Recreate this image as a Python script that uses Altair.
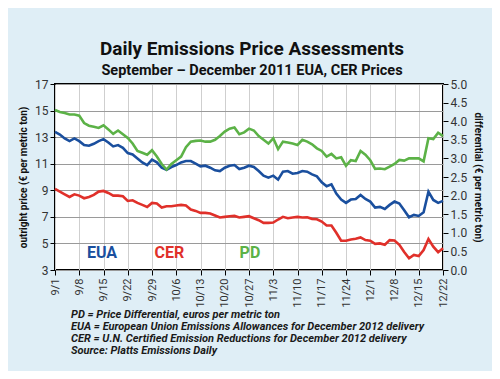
import altair as alt
import pandas as pd

# Trading-day index 0..80 (9/1/2011 .. 12/22/2011)
tick_labels = ["9/1", "9/8", "9/15", "9/22", "9/29", "10/6", "10/13", "10/20", "10/27",
               "11/3", "11/10", "11/17", "11/24", "12/1", "12/8", "12/15", "12/22"]

eua = [13.4, 13.2, 12.9, 12.7, 12.9, 12.7, 12.4, 12.35, 12.5, 12.7,
       12.85, 12.6, 12.3, 12.4, 12.2, 11.8, 11.7, 11.4, 11.1, 10.9,
       11.3, 11.1, 10.7, 10.55, 10.75, 10.9, 11.1, 11.2, 11.2, 11.0,
       10.8, 10.85, 10.7, 10.5, 10.45, 10.7, 10.85, 10.9, 10.6, 10.7,
       10.85, 10.75, 10.45, 10.1, 9.95, 10.1, 9.8, 10.4, 10.45, 10.25,
       10.3, 10.45, 10.4, 10.2, 10.05, 9.6, 9.3, 9.45, 8.75, 8.3,
       8.05, 8.3, 8.35, 8.65, 8.35, 8.15, 7.7, 7.75, 7.6, 7.9,
       8.15, 8.0, 7.5, 6.97, 7.15, 7.07, 7.35, 8.9, 8.27, 8.05, 8.2]

cer = [9.1, 8.9, 8.7, 8.5, 8.7, 8.6, 8.4, 8.5, 8.65, 8.9,
       8.95, 8.8, 8.6, 8.6, 8.55, 8.2, 8.25, 8.05, 7.9, 7.75,
       8.05, 8.0, 7.7, 7.8, 7.8, 7.85, 7.9, 7.85, 7.55, 7.45,
       7.3, 7.3, 7.25, 7.1, 6.95, 7.0, 7.05, 7.07, 6.95, 7.0,
       7.05, 6.9, 6.75, 6.55, 6.55, 6.57, 6.8, 7.0, 6.9, 6.95,
       7.0, 6.95, 6.97, 6.85, 6.82, 6.65, 6.35, 6.35, 5.8, 5.2,
       5.2, 5.3, 5.35, 5.45, 5.25, 5.2, 4.97, 5.0, 4.9, 5.25,
       5.22, 4.9, 4.35, 3.88, 4.13, 4.05, 4.5, 5.34, 4.76, 4.34, 4.64]

pdiff = [4.30, 4.25, 4.22, 4.18, 4.18, 4.15, 3.95, 3.88, 3.85, 3.82,
         3.89, 3.78, 3.66, 3.75, 3.65, 3.55, 3.40, 3.20, 3.15, 3.10,
         3.22, 3.05, 2.85, 2.70, 2.85, 2.95, 3.05, 3.30, 3.45, 3.47,
         3.48, 3.45, 3.45, 3.50, 3.60, 3.72, 3.80, 3.83, 3.65, 3.70,
         3.80, 3.75, 3.60, 3.50, 3.40, 3.54, 3.25, 3.45, 3.43, 3.40,
         3.36, 3.50, 3.45, 3.38, 3.27, 3.20, 3.05, 3.12, 3.00, 3.03,
         2.80, 2.95, 2.93, 3.20, 3.10, 2.95, 2.72, 2.73, 2.71, 2.78,
         2.85, 2.96, 2.94, 3.00, 3.00, 3.00, 2.92, 3.54, 3.52, 3.69, 3.60]

series_names = ["EUA", "CER", "PD"]
label_x = [9.7, 23.6, 40.2]
label_y = [4.25, 4.25, 4.25]

footer_lines = ["PD = Price Differential, euros per metric ton",
                "EUA = European Union Emissions Allowances for December 2012 delivery",
                "CER = U.N. Certified Emission Reductions for December 2012 delivery",
                "Source: Platts Emissions Daily"]

BLUE = "#1a4f9e"
RED = "#e0302a"
GREEN = "#5cb247"
FONT = "Roboto, Liberation Sans, sans-serif"

df = pd.DataFrame({"i": list(range(len(eua))), "EUA": eua, "CER": cer, "PD": pdiff})
lab_df = pd.DataFrame({"name": series_names, "x": label_x, "y": label_y})
foot_df = pd.DataFrame({"k": [0]})

label_expr = "[" + ",".join(f"'{t}'" for t in tick_labels) + "][round(datum.value/5)]"

x_enc = alt.X("i:Q", scale=alt.Scale(domain=[0, 80], nice=False, zero=False),
              axis=alt.Axis(values=list(range(0, 81, 5)), tickCount=40, labelExpr=label_expr,
                            labelAngle=-90, title=None, grid=True, labelOverlap=False,
                            labelFlush=False, labelBound=False,
                            gridColor="#cfcfcf", gridWidth=1, domain=False,
                            tickColor="#000", tickSize=5, labelFontSize=11,
                            labelColor="#333", labelFont=FONT, labelPadding=3))

left_scale = alt.Scale(domain=[3, 17], nice=False, zero=False)
left_axis = alt.Axis(values=[3, 5, 7, 9, 11, 13, 15, 17], tickCount=20, format="d",
                     title="outright price (€ per metric ton)",
                     grid=True, gridColor="#9a9a9a", gridWidth=1, domain=False,
                     labelOverlap=False, labelFlush=False, labelBound=False,
                     tickColor="#000", tickSize=5, labelFontSize=12, labelColor="#333",
                     labelFont=FONT, titleFont=FONT, titleFontSize=10, titleFontWeight="bold",
                     titleColor="#111", titlePadding=6)

base = alt.Chart(df)

eua_line = base.mark_line(color=BLUE, strokeWidth=2.6).encode(
    x=x_enc, y=alt.Y("EUA:Q", scale=left_scale, axis=left_axis))
cer_line = base.mark_line(color=RED, strokeWidth=2.6).encode(
    x=x_enc, y=alt.Y("CER:Q", scale=left_scale))

labels = alt.Chart(lab_df).mark_text(fontSize=16, fontWeight="bold", font=FONT,
                                     baseline="middle", align="center").encode(
    x=alt.X("x:Q"), y=alt.Y("y:Q", scale=left_scale),
    text="name:N",
    color=alt.Color("name:N", scale=alt.Scale(domain=series_names, range=[BLUE, RED, GREEN]),
                    legend=None))

footer = alt.Chart(foot_df).mark_text(align="left", baseline="alphabetic", fontSize=11,
                                      fontStyle="italic", fontWeight="bold", font=FONT,
                                      color="#1a1a1a", lineHeight=12).encode(
    x=alt.value(16), y=alt.value(234), text=alt.value(footer_lines))

left_layer = alt.layer(eua_line, cer_line, labels, footer)

pd_line = base.mark_line(color=GREEN, strokeWidth=2.6).encode(
    x=x_enc,
    y=alt.Y("PD:Q", scale=alt.Scale(domain=[0, 5], nice=False, zero=False),
            axis=alt.Axis(orient="right", values=[i * 0.5 for i in range(11)], tickCount=20,
                          format=".1f",
                          title="differential (€ per metric ton)", grid=False, domain=False,
                          labelOverlap=False, labelFlush=False, labelBound=False,
                          tickColor="#000", tickSize=5, labelFontSize=12, labelColor="#333",
                          labelFont=FONT, titleFont=FONT, titleFontSize=10,
                          titleFontWeight="bold", titleColor="#111", titlePadding=6)))

chart = alt.layer(left_layer, pd_line).resolve_scale(y="independent").properties(
    width=388, height=186,
    padding={"left": 47, "top": 76, "right": 49, "bottom": 101},
    autosize=alt.AutoSizeParams(type="none"),
    background="#dfeef6",
    title=alt.TitleParams(text="Daily Emissions Price Assessments",
                          subtitle="September – December 2011 EUA, CER Prices",
                          font=FONT, fontSize=19, fontWeight="bold", color="#111",
                          subtitleFont=FONT, subtitleFontSize=14.5, subtitleFontWeight="bold",
                          subtitleColor="#111", anchor="middle", dx=3, offset=1,
                          subtitlePadding=5),
).configure_view(stroke="#000", strokeWidth=2, fill="white")

chart.save("out.html", embed_options={"renderer": "svg", "actions": False})
